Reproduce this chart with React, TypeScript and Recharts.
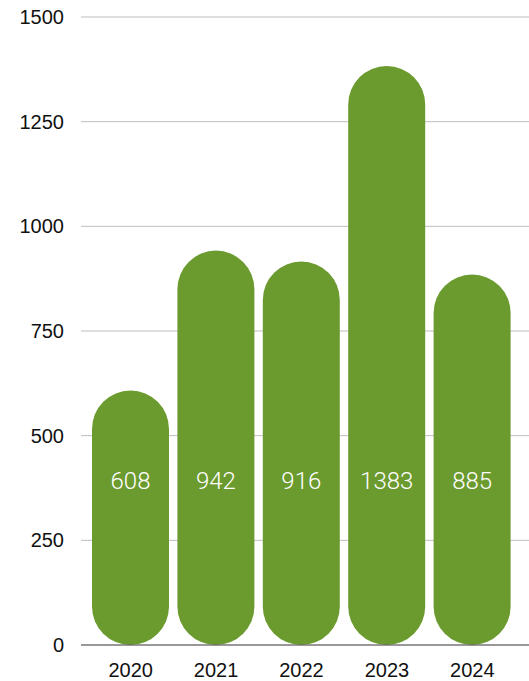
import React from 'react'
import { BarChart, Bar, XAxis, YAxis, CartesianGrid, LabelList } from 'recharts'

const years = ['2020', '2021', '2022', '2023', '2024']
const counts = [608, 942, 916, 1383, 885]
const yTicks = [0, 250, 500, 750, 1000, 1250, 1500]

const data = years.map((year, i) => ({ year, count: counts[i] }))

const GREEN = '#6b9a2f'

// value labels all sit at the same height, near the lower middle of the bars
const InsideLabel = (props: any) => {
    const { x, width, value } = props
    return (
        <text
            x={x + width / 2}
            y={489}
            textAnchor="middle"
            fill="#ffffff"
            fontSize={24}
            fontWeight={300}
            fontFamily="Roboto, 'Liberation Sans', sans-serif"
        >
            {value}
        </text>
    )
}

const App = () => {
    return (
        <div>
            <style>{'body { margin: 0; }'}</style>
            <BarChart
                width={529}
                height={681}
                data={data}
                margin={{ top: 17, right: 0, left: 0, bottom: 0 }}
                barSize={77}
            >
                <Bar
                    dataKey="count"
                    fill={GREEN}
                    radius={[38.5, 38.5, 38.5, 38.5]}
                    isAnimationActive={false}
                >
                    <LabelList dataKey="count" content={InsideLabel} />
                </Bar>
                <CartesianGrid vertical={false} stroke="#bdbdbd" strokeWidth={1} />
                <XAxis
                    dataKey="year"
                    height={36}
                    padding={{ left: 7, right: 14 }}
                    tickLine={false}
                    tickSize={0}
                    tickMargin={18}
                    axisLine={{ stroke: '#555555', strokeWidth: 1 }}
                    tick={{ fill: '#111111', fontSize: 20, fontFamily: "'Liberation Sans', Arial, sans-serif" }}
                />
                <YAxis
                    width={81}
                    domain={[0, 1500]}
                    ticks={yTicks}
                    interval={0}
                    axisLine={false}
                    tickLine={false}
                    tickSize={0}
                    tickMargin={17}
                    tick={{ fill: '#111111', fontSize: 20, fontFamily: "'Liberation Sans', Arial, sans-serif" }}
                />
            </BarChart>
        </div>
    )
}

export default App
